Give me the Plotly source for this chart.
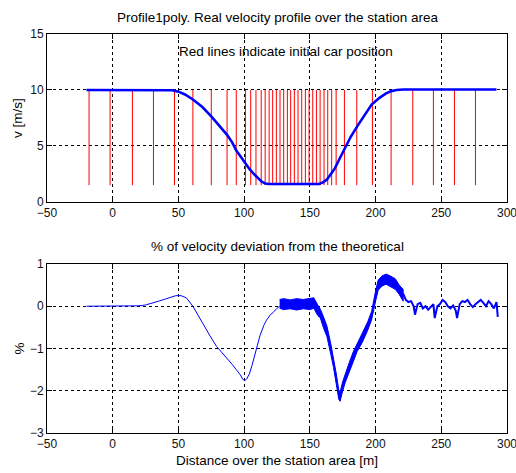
import plotly.graph_objects as go

# ---------------- data ----------------
# Top: velocity profile [m/s] vs distance [m]
vel_x = [-20, 0, 20, 40, 45, 50, 55, 61, 68, 75, 81, 87, 91, 94, 98, 101, 104, 107, 110, 113,
         116, 119, 130, 145, 157, 160, 163, 166, 169, 173, 177, 181, 186, 191, 197, 203, 208,
         212, 216, 221, 240, 260, 280, 292]
vel_y = [10, 10, 10, 10, 9.98, 9.85, 9.6, 9.15, 8.5, 7.65, 6.85, 6.0, 5.3, 4.6, 3.95, 3.4, 2.95,
         2.55, 2.2, 1.85, 1.65, 1.6, 1.6, 1.6, 1.6, 1.75, 2.0, 2.5, 3.0, 3.95, 4.9, 5.8, 6.75, 7.6,
         8.7, 9.3, 9.7, 9.9, 10.0, 10.05, 10.05, 10.05, 10.05, 10.05]

# Initial car positions (red lines)
car_pos = [-18, -2, 15, 31, 47, 61, 75, 87, 94, 101, 105, 109, 113, 116, 119, 121.7, 124.5,
           127.3, 130.1, 132.9, 135.4, 138.2, 141, 143.8, 146.6, 149.4, 152.2, 155, 157.8,
           160.8, 163.6, 166.6, 170, 176.3, 185.7, 197.6, 211.8, 228.3, 244, 260, 276]
car_low = 1.5
car_high = 10

# Bottom: % deviation, smooth part
dev_x = [-20, 0, 15, 20, 25, 30, 35, 40, 45, 48, 52, 56, 61, 65, 69, 74, 79, 84, 87, 91, 94,
         97, 99, 100.5, 102, 104, 106, 108, 110, 112, 115, 117, 120, 122, 125, 127]
dev_y = [0, 0, 0, 0.01, 0.03, 0.07, 0.12, 0.17, 0.22, 0.25, 0.25, 0.2, 0.0, -0.22, -0.45, -0.7,
         -0.95, -1.12, -1.22, -1.38, -1.5, -1.62, -1.73, -1.76, -1.72, -1.6, -1.4, -1.15, -0.92,
         -0.7, -0.45, -0.33, -0.2, -0.15, -0.05, 0.0]

# Bottom: oscillating band (low / high envelope)
band_x = [127, 130, 135, 140, 145, 150, 153, 156, 158, 160, 163, 166, 168, 170, 172, 173, 175,
          177, 180, 183, 186, 190, 194, 197, 200, 202, 205, 208, 211, 215, 218, 221]
band_lo = [-0.05, -0.08, -0.06, -0.09, -0.06, -0.08, -0.05, -0.22, -0.28, -0.48, -0.72, -1.15,
           -1.45, -1.8, -2.2, -2.25, -2.0, -1.8, -1.55, -1.3, -1.07, -0.85, -0.57, -0.32, 0.12,
           0.38, 0.48, 0.52, 0.48, 0.4, 0.28, 0.12]
band_hi = [0.16, 0.18, 0.15, 0.18, 0.16, 0.18, 0.2, 0.03, -0.07, -0.22, -0.47, -0.9, -1.22,
           -1.58, -1.98, -2.03, -1.78, -1.58, -1.33, -1.08, -0.87, -0.63, -0.37, -0.12, 0.36,
           0.62, 0.72, 0.76, 0.72, 0.65, 0.5, 0.4]

# Bottom: noisy tail
tail_x = [221, 223, 225, 227, 229, 230, 232, 234, 236, 238, 240, 242, 244, 245, 247, 249, 251,
          253, 255, 257, 259, 261, 262, 264, 266, 268, 270, 272, 274, 276, 278, 280, 282, 284,
          286, 288, 290, 292, 293]
tail_y = [0.3, 0.15, 0.1, 0.12, 0.0, -0.2, 0.05, 0.08, -0.05, 0.0, -0.08, -0.02, 0.05, -0.28,
          0.0, 0.05, 0.15, 0.1, 0.0, -0.05, 0.02, -0.1, -0.28, 0.05, 0.12, 0.1, 0.15, 0.05,
          -0.02, 0.05, 0.1, 0.15, 0.08, 0.0, 0.12, 0.05, -0.05, 0.1, -0.25]

x_ticks = [-50, 0, 50, 100, 150, 200, 250, 300]
v_ticks = [0, 5, 10, 15]
d_ticks = [-3, -2, -1, 0, 1]

# ---------------- figure ----------------
FONT = "Liberation Sans, Arial, sans-serif"
TXT = 13.5
fig = go.Figure()

rx, ry = [], []
for p in car_pos:
    rx += [p, p, None]
    ry += [car_low, car_high, None]
fig.add_trace(go.Scatter(x=rx, y=ry, mode="lines", line=dict(color="#ff0000", width=1),
                         xaxis="x", yaxis="y", hoverinfo="skip"))
fig.add_trace(go.Scatter(x=vel_x, y=vel_y, mode="lines", line=dict(color="#0000ff", width=2.6),
                         xaxis="x", yaxis="y"))

fig.add_trace(go.Scatter(x=dev_x, y=dev_y, mode="lines", line=dict(color="#0000ff", width=1),
                         xaxis="x2", yaxis="y2"))
fig.add_trace(go.Scatter(x=band_x + band_x[::-1], y=band_hi + band_lo[::-1], mode="lines",
                         fill="toself", fillcolor="#0000ff", line=dict(color="#0000ff", width=1),
                         xaxis="x2", yaxis="y2"))
fig.add_trace(go.Scatter(x=tail_x, y=tail_y, mode="lines", line=dict(color="#0000ff", width=2),
                         xaxis="x2", yaxis="y2"))

axis_common = dict(showline=True, linecolor="black", linewidth=1, mirror="ticks",
                   ticks="inside", ticklen=5, tickcolor="black",
                   showgrid=True, gridcolor="black", gridwidth=1, griddash="3px,3px",
                   zeroline=False, ticklabeloverflow="allow", automargin=False,
                   tickfont=dict(family=FONT, size=12, color="#111"))

fig.update_layout(
    width=516, height=473,
    margin=dict(l=47, r=9, t=34, b=40, autoexpand=False),
    paper_bgcolor="white", plot_bgcolor="white",
    showlegend=False,
    font=dict(family=FONT, size=12, color="black"),
    xaxis=dict(domain=[0, 1], range=[-50, 300], tickvals=x_ticks, anchor="y", **axis_common),
    yaxis=dict(domain=[0.579, 1], range=[0, 15], tickvals=v_ticks, anchor="x",
               title=dict(text="v [m/s]", standoff=4, font=dict(family=FONT, size=TXT)),
               **axis_common),
    xaxis2=dict(domain=[0, 1], range=[-50, 300], tickvals=x_ticks, anchor="y2",
                title=dict(text="Distance over the station area [m]", standoff=5,
                           font=dict(family=FONT, size=TXT)),
                **axis_common),
    yaxis2=dict(domain=[0, 0.4236], range=[-3, 1], tickvals=d_ticks, anchor="x2",
                title=dict(text="%", standoff=2, font=dict(family=FONT, size=TXT)),
                **axis_common),
    annotations=[
        dict(text="Profile1poly. Real velocity profile over the station area", xref="paper",
             yref="paper", x=0.5, y=1.0426, showarrow=False, xanchor="center", yanchor="middle",
             font=dict(family=FONT, size=TXT)),
        dict(text="% of velocity deviation from the theoretical", xref="paper",
             yref="paper", x=0.5, y=0.468, showarrow=False, xanchor="center", yanchor="middle",
             font=dict(family=FONT, size=TXT)),
        dict(text="Red lines indicate initial car position", xref="x", yref="y",
             x=49, y=13.4, showarrow=False, xanchor="left", yanchor="middle",
             font=dict(family=FONT, size=TXT)),
    ],
)

fig.write_html("out.html")
